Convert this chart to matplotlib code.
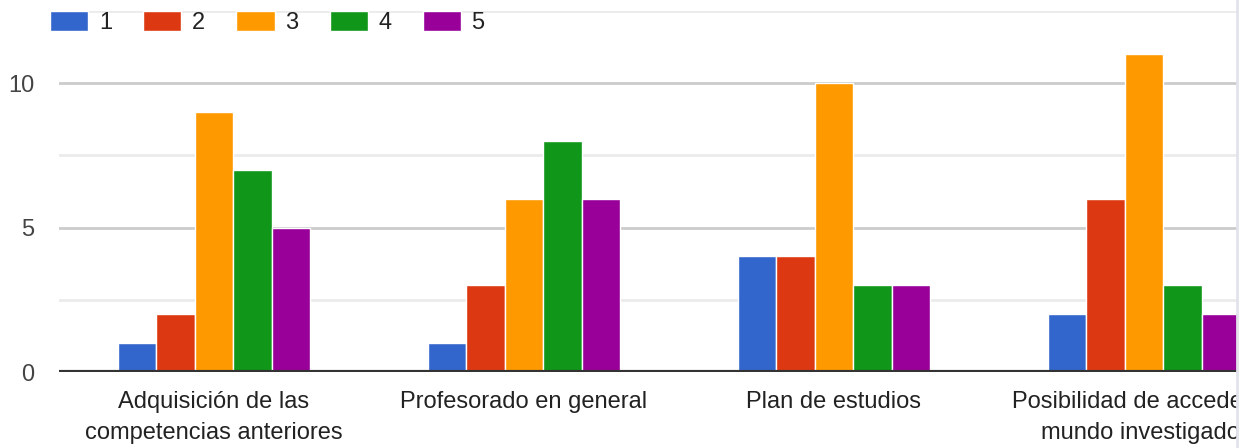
import numpy as np
from matplotlib import pyplot as plt
from matplotlib.patches import Rectangle
from matplotlib.lines import Line2D

plt.rcParams['font.family'] = ['Liberation Sans', 'DejaVu Sans']

categories = ["Adquisición de las\ncompetencias anteriores",
              "Profesorado en general",
              "Plan de estudios",
              "Posibilidad de acceder al\nmundo investigador"]
series_names = ["1", "2", "3", "4", "5"]
values_1 = [1, 1, 4, 2]
values_2 = [2, 3, 4, 6]
values_3 = [9, 6, 10, 11]
values_4 = [7, 8, 3, 3]
values_5 = [5, 6, 3, 2]
colors = ['#3366cc', '#dc3912', '#ff9900', '#109618', '#990099']

W, H = 1252, 448
fig = plt.figure(figsize=(W / 100, H / 100), dpi=100)

# axes run past the right edge, the picture is cut there
ax = fig.add_axes([59 / W, 76 / H, (1299 - 59) / W, (437 - 76) / H])

x = np.arange(len(categories))
w = 0.1245
all_values = [values_1, values_2, values_3, values_4, values_5]
for i, vals in enumerate(all_values):
    ax.bar(x + (i - 2) * w, vals, width=w, color=colors[i], edgecolor='white',
           linewidth=1, label=series_names[i], zorder=3)

ax.set_xlim(-0.5, len(categories) - 0.5)
ax.set_ylim(0, 12.5)
ax.set_yticks([0, 5, 10])
ax.set_yticks([2.5, 7.5, 12.5], minor=True)
ax.grid(axis='y', which='major', color='#cccccc', linewidth=2, zorder=0)
ax.grid(axis='y', which='minor', color='#ebebeb', linewidth=2, zorder=0)
ax.axhline(0, color='#333333', linewidth=3, zorder=4)

for s in ax.spines.values():
    s.set_visible(False)
ax.tick_params(axis='both', which='both', length=0)
ax.tick_params(axis='y', labelsize=17, labelcolor='#444444', pad=18)
ax.tick_params(axis='x', labelsize=17, labelcolor='#222222', pad=14)
ax.set_xticks(x)
ax.set_xticklabels(categories, linespacing=1.5)

fig.legend(loc='upper left', bbox_to_anchor=(50 / W, 1 - 11 / H), ncol=5,
           frameon=False, fontsize=17, handlelength=1.62, handleheight=0.95,
           handletextpad=0.45, columnspacing=1.32, borderaxespad=0, borderpad=0,
           labelcolor='#222222')

# cut on the right side
fig.add_artist(Rectangle((1237.5 / W, 0), 1 - 1237.5 / W, 1, transform=fig.transFigure,
                         facecolor='white', edgecolor='none', zorder=10))
fig.add_artist(Line2D([1237 / W, 1237 / W], [0, 1], transform=fig.transFigure,
                      color='#e2e2ea', linewidth=2, zorder=11))

fig.savefig("out.png", dpi=100)
